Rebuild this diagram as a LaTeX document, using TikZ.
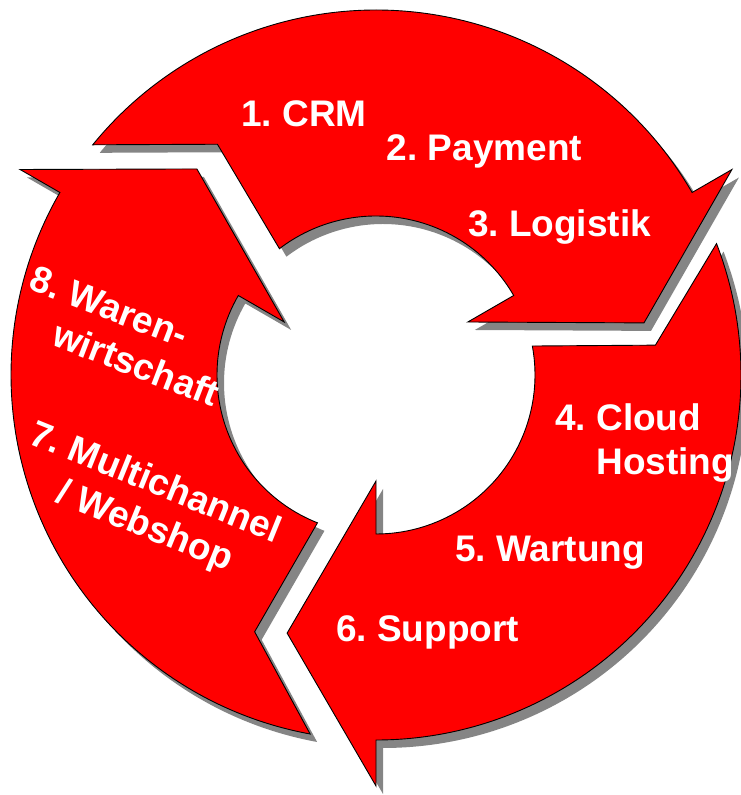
\documentclass[tikz,border=0pt]{standalone}
\usepackage{fontspec}
\setmainfont{Liberation Sans}
\frenchspacing
\definecolor{ringred}{RGB}{255,0,0}
\definecolor{shadowgray}{RGB}{133,133,133}
% one arrow of the ring, head at 30 degrees; #1 tail outer angle, #2/#3 notch, #4 tail inner angle
\newcommand{\ringarrow}[4]{(#1:365) arc[start angle=#1, end angle=30, radius=365]
  -- (30:411) -- (11:273) -- (30:106) -- (30:159)
  arc[start angle=30, end angle=#4, radius=159] -- (#2:#3) -- cycle}
\begin{document}
\begin{tikzpicture}[x=1pt, y=1pt,
    arrowbody/.style={fill=ringred, draw=black, line width=0.9pt, line join=miter},
    arrowshadow/.style={fill=shadowgray},
    lbl/.style={text=white, font=\bfseries\fontsize{37}{44}\selectfont, inner sep=0pt, align=left}]
  \useasboundingbox (0,0) rectangle (741,795);
  \coordinate (c) at (376,420);
  \foreach \rot/\outang/\notchang/\notchrad/\innang in {0/140.9/124.5/280/127.4, -120/141.1/126.1/281/130.5, 120/139.6/124.7/284/128.4}
    \fill[arrowshadow, shift={(c)}, xshift=7pt, yshift=-8pt, rotate=\rot] \ringarrow{\outang}{\notchang}{\notchrad}{\innang};
  \foreach \rot/\outang/\notchang/\notchrad/\innang in {0/140.9/124.5/280/127.4, -120/141.1/126.1/281/130.5, 120/139.6/124.7/284/128.4}
    \filldraw[arrowbody, shift={(c)}, rotate=\rot] \ringarrow{\outang}{\notchang}{\notchrad}{\innang};

  \node[lbl, anchor=base] (crm) at (304,668) {1. CRM};
  \node[lbl, anchor=base] (payment) at (484.5,634) {2. Payment};
  \node[lbl, anchor=base] (logistik) at (559.5,558) {3. Logistik};
  \node[lbl, anchor=north west] (cloud) at (555,392) {4. Cloud\\\phantom{4. }Hosting};
  \node[lbl, anchor=base] (wartung) at (550,233) {5. Wartung};
  \node[lbl, anchor=base] (support) at (427.5,153) {6. Support};
  \node[lbl, anchor=north west, rotate=-22] (webshop) at (37.5,377) {7. Multichannel\\\phantom{7. }\hspace*{6pt}/ Webshop};
  \node[lbl, anchor=north west, rotate=-21] (waren) at (36.6,530.5) {8. Waren-\\\phantom{8. }wirtschaft};
\end{tikzpicture}
\end{document}
